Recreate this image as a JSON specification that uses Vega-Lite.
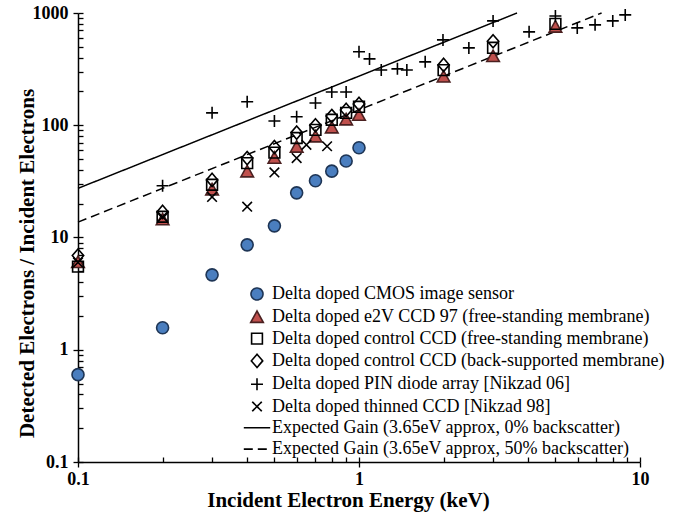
{
  "$schema": "https://vega.github.io/schema/vega-lite/v6.json",
  "width": 562,
  "height": 449,
  "autosize": {"type": "none"},
  "padding": {"left": 78, "top": 13, "right": 44, "bottom": 51},
  "background": "white",
  "config": {
    "view": {"stroke": null},
    "axis": {
      "domainColor": "black",
      "domainWidth": 1.5,
      "tickColor": "black",
      "tickWidth": 1.3,
      "labelFont": "Liberation Serif",
      "labelFontWeight": "bold",
      "labelFontSize": 18,
      "labelColor": "black",
      "titleFont": "Liberation Serif",
      "titleFontWeight": "bold",
      "titleFontSize": 21,
      "titleColor": "black",
      "grid": false
    },
    "legend": {
      "labelFont": "Liberation Serif",
      "labelFontSize": 18,
      "labelColor": "black",
      "labelLimit": 600
    }
  },
  "resolve": {"axis": {"x": "independent", "y": "independent"}},
  "datasets": {
    "points": [
      {"series": "Delta doped e2V CCD 97 (free-standing membrane)", "energy": 0.1, "gain": 6.0},
      {"series": "Delta doped e2V CCD 97 (free-standing membrane)", "energy": 0.2, "gain": 14.4},
      {"series": "Delta doped e2V CCD 97 (free-standing membrane)", "energy": 0.3, "gain": 26.6},
      {"series": "Delta doped e2V CCD 97 (free-standing membrane)", "energy": 0.4, "gain": 38.5},
      {"series": "Delta doped e2V CCD 97 (free-standing membrane)", "energy": 0.5, "gain": 51},
      {"series": "Delta doped e2V CCD 97 (free-standing membrane)", "energy": 0.6, "gain": 64},
      {"series": "Delta doped e2V CCD 97 (free-standing membrane)", "energy": 0.7, "gain": 79},
      {"series": "Delta doped e2V CCD 97 (free-standing membrane)", "energy": 0.8, "gain": 95},
      {"series": "Delta doped e2V CCD 97 (free-standing membrane)", "energy": 0.9, "gain": 112},
      {"series": "Delta doped e2V CCD 97 (free-standing membrane)", "energy": 1.0, "gain": 123},
      {"series": "Delta doped e2V CCD 97 (free-standing membrane)", "energy": 2.0, "gain": 270},
      {"series": "Delta doped e2V CCD 97 (free-standing membrane)", "energy": 3.0, "gain": 410},
      {"series": "Delta doped e2V CCD 97 (free-standing membrane)", "energy": 5.0, "gain": 750},
      {"series": "Delta doped control CCD (free-standing membrane)", "energy": 0.1, "gain": 5.5},
      {"series": "Delta doped control CCD (free-standing membrane)", "energy": 0.2, "gain": 15.3},
      {"series": "Delta doped control CCD (free-standing membrane)", "energy": 0.3, "gain": 29.5},
      {"series": "Delta doped control CCD (free-standing membrane)", "energy": 0.4, "gain": 46},
      {"series": "Delta doped control CCD (free-standing membrane)", "energy": 0.5, "gain": 57},
      {"series": "Delta doped control CCD (free-standing membrane)", "energy": 0.6, "gain": 77},
      {"series": "Delta doped control CCD (free-standing membrane)", "energy": 0.7, "gain": 91},
      {"series": "Delta doped control CCD (free-standing membrane)", "energy": 0.8, "gain": 112},
      {"series": "Delta doped control CCD (free-standing membrane)", "energy": 0.9, "gain": 129},
      {"series": "Delta doped control CCD (free-standing membrane)", "energy": 1.0, "gain": 146},
      {"series": "Delta doped control CCD (free-standing membrane)", "energy": 2.0, "gain": 310},
      {"series": "Delta doped control CCD (free-standing membrane)", "energy": 3.0, "gain": 490},
      {"series": "Delta doped control CCD (free-standing membrane)", "energy": 5.0, "gain": 800},
      {"series": "Delta doped control CCD (back-supported membrane)", "energy": 0.1, "gain": 6.9},
      {"series": "Delta doped control CCD (back-supported membrane)", "energy": 0.2, "gain": 16.9},
      {"series": "Delta doped control CCD (back-supported membrane)", "energy": 0.3, "gain": 32.6},
      {"series": "Delta doped control CCD (back-supported membrane)", "energy": 0.4, "gain": 51},
      {"series": "Delta doped control CCD (back-supported membrane)", "energy": 0.5, "gain": 64},
      {"series": "Delta doped control CCD (back-supported membrane)", "energy": 0.6, "gain": 86},
      {"series": "Delta doped control CCD (back-supported membrane)", "energy": 0.7, "gain": 100},
      {"series": "Delta doped control CCD (back-supported membrane)", "energy": 0.8, "gain": 121},
      {"series": "Delta doped control CCD (back-supported membrane)", "energy": 0.9, "gain": 137},
      {"series": "Delta doped control CCD (back-supported membrane)", "energy": 1.0, "gain": 155},
      {"series": "Delta doped control CCD (back-supported membrane)", "energy": 2.0, "gain": 345},
      {"series": "Delta doped control CCD (back-supported membrane)", "energy": 3.0, "gain": 560},
      {"series": "Delta doped thinned CCD [Nikzad 98]", "energy": 0.1, "gain": 6.0},
      {"series": "Delta doped thinned CCD [Nikzad 98]", "energy": 0.2, "gain": 15.3},
      {"series": "Delta doped thinned CCD [Nikzad 98]", "energy": 0.3, "gain": 23},
      {"series": "Delta doped thinned CCD [Nikzad 98]", "energy": 0.4, "gain": 18.8},
      {"series": "Delta doped thinned CCD [Nikzad 98]", "energy": 0.5, "gain": 38},
      {"series": "Delta doped thinned CCD [Nikzad 98]", "energy": 0.6, "gain": 51},
      {"series": "Delta doped thinned CCD [Nikzad 98]", "energy": 0.65, "gain": 67},
      {"series": "Delta doped thinned CCD [Nikzad 98]", "energy": 0.77, "gain": 65},
      {"series": "Delta doped PIN diode array [Nikzad 06]", "energy": 0.2, "gain": 28.9},
      {"series": "Delta doped PIN diode array [Nikzad 06]", "energy": 0.3, "gain": 129},
      {"series": "Delta doped PIN diode array [Nikzad 06]", "energy": 0.4, "gain": 162},
      {"series": "Delta doped PIN diode array [Nikzad 06]", "energy": 0.5, "gain": 109},
      {"series": "Delta doped PIN diode array [Nikzad 06]", "energy": 0.6, "gain": 119},
      {"series": "Delta doped PIN diode array [Nikzad 06]", "energy": 0.7, "gain": 158},
      {"series": "Delta doped PIN diode array [Nikzad 06]", "energy": 0.8, "gain": 198},
      {"series": "Delta doped PIN diode array [Nikzad 06]", "energy": 0.9, "gain": 198},
      {"series": "Delta doped PIN diode array [Nikzad 06]", "energy": 1.0, "gain": 451},
      {"series": "Delta doped PIN diode array [Nikzad 06]", "energy": 1.09, "gain": 390},
      {"series": "Delta doped PIN diode array [Nikzad 06]", "energy": 1.2, "gain": 311},
      {"series": "Delta doped PIN diode array [Nikzad 06]", "energy": 1.37, "gain": 318},
      {"series": "Delta doped PIN diode array [Nikzad 06]", "energy": 1.48, "gain": 311},
      {"series": "Delta doped PIN diode array [Nikzad 06]", "energy": 1.72, "gain": 367},
      {"series": "Delta doped PIN diode array [Nikzad 06]", "energy": 1.99, "gain": 576},
      {"series": "Delta doped PIN diode array [Nikzad 06]", "energy": 2.46, "gain": 489},
      {"series": "Delta doped PIN diode array [Nikzad 06]", "energy": 3.0, "gain": 850},
      {"series": "Delta doped PIN diode array [Nikzad 06]", "energy": 4.03, "gain": 679},
      {"series": "Delta doped PIN diode array [Nikzad 06]", "energy": 5.0, "gain": 940},
      {"series": "Delta doped PIN diode array [Nikzad 06]", "energy": 5.98, "gain": 737},
      {"series": "Delta doped PIN diode array [Nikzad 06]", "energy": 6.92, "gain": 784},
      {"series": "Delta doped PIN diode array [Nikzad 06]", "energy": 8.0, "gain": 850},
      {"series": "Delta doped PIN diode array [Nikzad 06]", "energy": 8.86, "gain": 962},
      {"series": "Delta doped CMOS image sensor", "energy": 0.1, "gain": 0.6},
      {"series": "Delta doped CMOS image sensor", "energy": 0.2, "gain": 1.57},
      {"series": "Delta doped CMOS image sensor", "energy": 0.3, "gain": 4.65},
      {"series": "Delta doped CMOS image sensor", "energy": 0.4, "gain": 8.6},
      {"series": "Delta doped CMOS image sensor", "energy": 0.5, "gain": 12.7},
      {"series": "Delta doped CMOS image sensor", "energy": 0.6, "gain": 25},
      {"series": "Delta doped CMOS image sensor", "energy": 0.7, "gain": 32},
      {"series": "Delta doped CMOS image sensor", "energy": 0.8, "gain": 39},
      {"series": "Delta doped CMOS image sensor", "energy": 0.9, "gain": 48},
      {"series": "Delta doped CMOS image sensor", "energy": 1.0, "gain": 63}
    ],
    "lines": [
      {"series": "Expected Gain (3.65eV approx, 0% backscatter)", "energy": 0.1, "gain": 27.4},
      {"series": "Expected Gain (3.65eV approx, 0% backscatter)", "energy": 3.65, "gain": 1000},
      {"series": "Expected Gain (3.65eV approx, 50% backscatter)", "energy": 0.1, "gain": 13.7},
      {"series": "Expected Gain (3.65eV approx, 50% backscatter)", "energy": 7.3, "gain": 1000}
    ]
  },
  "layer": [
    {
      "data": {"name": "lines"},
      "mark": {"type": "line", "strokeWidth": 1.5},
      "encoding": {
        "x": {
          "field": "energy", "type": "quantitative",
          "title": "Incident Electron Energy (keV)",
          "scale": {"type": "log", "domain": [0.1, 10], "nice": false},
          "axis": {
            "orient": "bottom",
            "values": [0.1, 1, 10],
            "format": "~g",
            "tickSize": 5,
            "labelPadding": 3,
            "titlePadding": 1,
            "titleX": 270,
            "labelFlush": false,
            "labelOverlap": false
          }
        },
        "y": {
          "field": "gain", "type": "quantitative",
          "title": "Detected Electrons / Incident Electrons",
          "scale": {"type": "log", "domain": [0.1, 1000], "nice": false},
          "axis": {
            "orient": "left",
            "values": [0.1, 1, 10, 100, 1000],
            "format": "~g",
            "tickSize": 5,
            "labelPadding": 5,
            "titlePadding": -5,
            "titleY": 250,
            "labelFlush": false,
            "labelOverlap": false
          }
        },
        "stroke": {
          "field": "series", "type": "nominal",
          "scale": {
            "domain": [
              "Delta doped CMOS image sensor",
              "Delta doped e2V CCD 97 (free-standing membrane)",
              "Delta doped control CCD (free-standing membrane)",
              "Delta doped control CCD (back-supported membrane)",
              "Delta doped PIN diode array [Nikzad 06]",
              "Delta doped thinned CCD [Nikzad 98]",
              "Expected Gain (3.65eV approx, 0% backscatter)",
              "Expected Gain (3.65eV approx, 50% backscatter)"
            ],
            "range": ["#1e3555", "#4a2020", "black", "black", "black", "black", "black", "black"]
          },
          "legend": {"title": null}
        },
        "strokeDash": {
          "field": "series", "type": "nominal",
          "scale": {
            "domain": [
              "Delta doped CMOS image sensor",
              "Delta doped e2V CCD 97 (free-standing membrane)",
              "Delta doped control CCD (free-standing membrane)",
              "Delta doped control CCD (back-supported membrane)",
              "Delta doped PIN diode array [Nikzad 06]",
              "Delta doped thinned CCD [Nikzad 98]",
              "Expected Gain (3.65eV approx, 0% backscatter)",
              "Expected Gain (3.65eV approx, 50% backscatter)"
            ],
            "range": [[1, 0], [1, 0], [1, 0], [1, 0], [1, 0], [1, 0], [1, 0], [9, 5]]
          },
          "legend": {"title": null}
        }
      }
    },
    {
      "data": {"name": "points"},
      "mark": {"type": "point", "size": 144, "strokeWidth": 1.6, "opacity": 1, "filled": false},
      "encoding": {
        "x": {
          "field": "energy", "type": "quantitative",
          "scale": {"type": "log", "domain": [0.1, 10], "nice": false},
          "axis": {
            "orient": "bottom",
            "title": null,
            "domain": false,
            "labels": false,
            "values": [0.1, 0.2, 0.3, 0.4, 0.5, 0.6, 0.7, 0.8, 0.9, 1, 2, 3, 4, 5, 6, 7, 8, 9, 10],
            "tickSize": -5
          }
        },
        "y": {
          "field": "gain", "type": "quantitative",
          "scale": {"type": "log", "domain": [0.1, 1000], "nice": false},
          "axis": {
            "orient": "left",
            "title": null,
            "domain": false,
            "labels": false,
            "values": [0.1, 0.2, 0.3, 0.4, 0.5, 0.6, 0.7, 0.8, 0.9, 1, 2, 3, 4, 5, 6, 7, 8, 9, 10, 20, 30, 40, 50, 60, 70, 80, 90, 100, 200, 300, 400, 500, 600, 700, 800, 900, 1000],
            "tickSize": -5
          }
        },
        "shape": {
          "field": "series", "type": "nominal",
          "scale": {
            "domain": [
              "Delta doped CMOS image sensor",
              "Delta doped e2V CCD 97 (free-standing membrane)",
              "Delta doped control CCD (free-standing membrane)",
              "Delta doped control CCD (back-supported membrane)",
              "Delta doped PIN diode array [Nikzad 06]",
              "Delta doped thinned CCD [Nikzad 98]",
              "Expected Gain (3.65eV approx, 0% backscatter)",
              "Expected Gain (3.65eV approx, 50% backscatter)"
            ],
            "range": [
              "circle",
              "M0,-1.05L1.05,0.85L-1.05,0.85Z",
              "M-0.9,-0.9L0.9,-0.9L0.9,0.9L-0.9,0.9Z",
              "M0,-1.1L0.95,0L0,1.1L-0.95,0Z",
              "M-1,0L1,0M0,-1L0,1",
              "M-0.8,-0.8L0.8,0.8M-0.8,0.8L0.8,-0.8",
              "M-2.2,0L2.2,0",
              "M-2.2,0L2.2,0"
            ]
          },
          "legend": {
            "title": null,
            "orient": "none",
            "legendX": 170,
            "legendY": 272,
            "padding": 0,
            "offset": 0,
            "rowPadding": 3.3,
            "labelOffset": 6,
            "symbolSize": 144,
            "symbolStrokeWidth": 1.6,
            "labelFont": "Liberation Serif",
            "labelFontSize": 18
          }
        },
        "fill": {
          "field": "series", "type": "nominal",
          "scale": {
            "domain": [
              "Delta doped CMOS image sensor",
              "Delta doped e2V CCD 97 (free-standing membrane)",
              "Delta doped control CCD (free-standing membrane)",
              "Delta doped control CCD (back-supported membrane)",
              "Delta doped PIN diode array [Nikzad 06]",
              "Delta doped thinned CCD [Nikzad 98]",
              "Expected Gain (3.65eV approx, 0% backscatter)",
              "Expected Gain (3.65eV approx, 50% backscatter)"
            ],
            "range": ["#4a7ebf", "#c0504d", "transparent", "transparent", "transparent", "transparent", "transparent", "transparent"]
          },
          "legend": {"title": null}
        },
        "stroke": {
          "field": "series", "type": "nominal",
          "scale": {
            "domain": [
              "Delta doped CMOS image sensor",
              "Delta doped e2V CCD 97 (free-standing membrane)",
              "Delta doped control CCD (free-standing membrane)",
              "Delta doped control CCD (back-supported membrane)",
              "Delta doped PIN diode array [Nikzad 06]",
              "Delta doped thinned CCD [Nikzad 98]",
              "Expected Gain (3.65eV approx, 0% backscatter)",
              "Expected Gain (3.65eV approx, 50% backscatter)"
            ],
            "range": ["#1e3555", "#4a2020", "black", "black", "black", "black", "black", "black"]
          },
          "legend": {"title": null}
        }
      }
    }
  ]
}
